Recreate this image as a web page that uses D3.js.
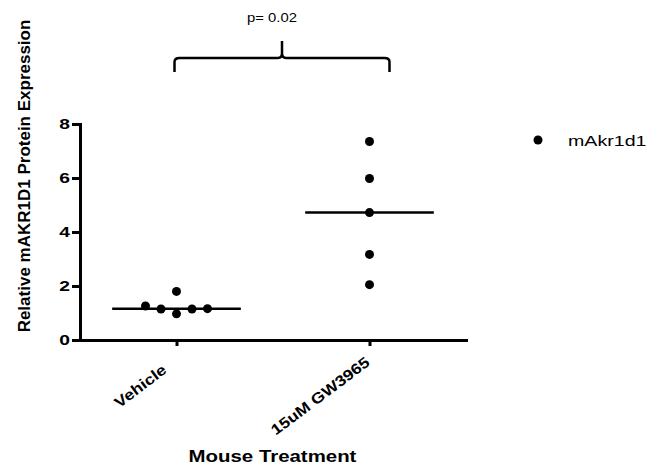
<!DOCTYPE html>
<html>
<head>
<meta charset="utf-8" />
<script src="https://d3js.org/d3.v7.min.js"></script>
<style>
    body { margin: 0; background: #fff; }
    svg { display: block; background: #fff; }
    text { font-family: Arial, "Liberation Sans", sans-serif; fill: #000; }
</style>
</head>
<body>
<svg width="652" height="470"></svg>
<script>
const groups = ['Vehicle', '15uM GW3965']
const vehicle = [1.26, 1.15, 1.80, 0.97, 1.15, 1.16]
const gw3965 = [7.35, 5.98, 4.72, 3.17, 2.05]
const yTicks = [0, 2, 4, 6, 8]
const seriesName = 'mAkr1d1'
const pLabel = 'p= 0.02'
const yTitle = 'Relative mAKR1D1 Protein Expression'
const xTitle = 'Mouse Treatment'

const svg = d3.select('svg')
const x = d3.scalePoint().domain(groups).range([80, 466]).padding(0.5)
const y = d3.scaleLinear().domain([0, 8]).range([340, 124])
const r = 4.5

// the original picture is widened sideways, so text gets stretched a bit
function stretch(sel, k) {
    sel.each(function () {
        const w = this.getComputedTextLength()
        d3.select(this).attr('textLength', w * k).attr('lengthAdjust', 'spacingAndGlyphs')
    })
}

// simple beeswarm: lowest value first, then step left/right until free
function swarm(values, cx, step) {
    const placed = []
    const order = values.map((v, i) => i).sort((a, b) => values[a] - values[b])
    order.forEach((i) => {
        const py = y(values[i])
        for (let k = 0; k < 20; k++) {
            const offs = k === 0 ? [0] : [k * step, -k * step]
            const o = offs.find((o) =>
                placed.every((p) => Math.hypot(p.x - (cx + o), p.y - py) >= 2 * r + 1))
            if (o !== undefined) {
                placed.push({ x: cx + o, y: py })
                break
            }
        }
    })
    return placed
}

// axes
const yAxis = svg.append('g')
    .attr('transform', 'translate(80,0)')
    .call(d3.axisLeft(y).tickValues(yTicks).tickSize(8).tickSizeOuter(0).tickPadding(2))
yAxis.select('.domain').attr('stroke-width', 3).attr('stroke-linecap', 'square')
yAxis.selectAll('.tick line').attr('stroke-width', 3)
yAxis.selectAll('.tick text')
    .style('font-size', '15px')
    .style('font-weight', 'bold')
    .call(stretch, 1.28)

const xAxis = svg.append('g')
    .attr('transform', 'translate(0,340)')
    .call(d3.axisBottom(x).tickSize(6).tickSizeOuter(0))
xAxis.select('.domain').attr('stroke-width', 3).attr('stroke-linecap', 'square')
xAxis.selectAll('.tick line').attr('stroke-width', 3)
xAxis.selectAll('.tick text')
    .style('font-size', '15px')
    .style('font-weight', 'bold')
    .attr('text-anchor', 'end')
    .attr('y', 0)
    .attr('dy', 0)
    .call(stretch, 1.17)
    .each(function () {
        const L = +d3.select(this).attr('textLength')
        d3.select(this)
            .attr('dx', 0.22 * L)
            .attr('transform', 'translate(-20,40) rotate(-37)')
    })

// points
const series = [vehicle, gw3965]
series.forEach((vals, gi) => {
    const cx = x(groups[gi])
    svg.append('g')
        .selectAll('circle')
        .data(swarm(vals, cx, 15.5))
        .enter()
        .append('circle')
        .attr('cx', (d) => d.x)
        .attr('cy', (d) => d.y)
        .attr('r', r)
        .style('fill', '#000')

    const med = d3.median(vals)
    svg.append('line')
        .attr('x1', cx - x.step() / 3)
        .attr('x2', cx + x.step() / 3)
        .attr('y1', y(med))
        .attr('y2', y(med))
        .style('stroke', '#000')
        .style('stroke-width', 2.5)
})

// titles
svg.append('text')
    .attr('transform', 'translate(30,176) rotate(-90)')
    .attr('text-anchor', 'middle')
    .style('font-size', '17px')
    .style('font-weight', 'bold')
    .text(yTitle)

svg.append('text')
    .attr('x', 272.5)
    .attr('y', 462)
    .attr('text-anchor', 'middle')
    .style('font-size', '17px')
    .style('font-weight', 'bold')
    .text(xTitle)
    .call(stretch, 1.2)

// legend
svg.append('circle')
    .attr('cx', 538)
    .attr('cy', 140)
    .attr('r', r)
    .style('fill', '#000')
svg.append('text')
    .attr('x', 568)
    .attr('y', 145.5)
    .style('font-size', '14px')
    .text(seriesName)
    .call(stretch, 1.4)

// significance brace
const bl = x(groups[0]) - 2
const br = x(groups[1]) + 20
const bm = (bl + br) / 2
const yb = 72, yh = 58, yt = 41
svg.append('path')
    .attr('d', `M${bl},${yb} V${yh + 4} Q${bl},${yh} ${bl + 5},${yh} H${bm - 4} Q${bm},${yh} ${bm},${yh - 5} V${yt} V${yh - 5} Q${bm},${yh} ${bm + 4},${yh} H${br - 5} Q${br},${yh} ${br},${yh + 4} V${yb}`)
    .style('fill', 'none')
    .style('stroke', '#000')
    .style('stroke-width', 2.5)

svg.append('text')
    .attr('x', bm - 10)
    .attr('y', 22)
    .attr('text-anchor', 'middle')
    .style('font-size', '13px')
    .text(pLabel)
    .call(stretch, 1.14)
</script>
</body>
</html>
